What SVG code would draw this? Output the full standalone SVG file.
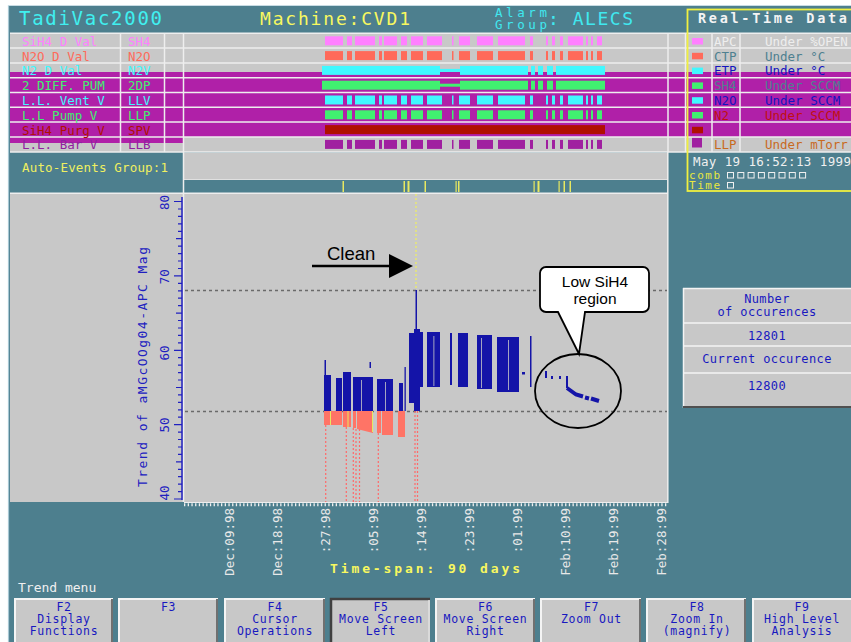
<svg xmlns="http://www.w3.org/2000/svg" width="851" height="642" viewBox="0 0 851 642">
<style>
.m{font-family:"DejaVu Sans Mono","Liberation Mono",monospace;}
.r{font-size:12.5px;white-space:pre;}
.a{font-family:"Liberation Sans",Arial,sans-serif;}
.sep{stroke:#EEEEEE;stroke-width:1.5;}
.bt{fill:#1818C0;font-size:11.5px;letter-spacing:0.7px;text-anchor:middle;}
.oc{fill:#1818C0;font-size:12px;letter-spacing:0.4px;text-anchor:middle;}
.tl{fill:#E8E8E8;font-size:12.5px;text-anchor:end;}
.yl{fill:#2020C0;font-size:12.5px;text-anchor:middle;}
.sd{stroke:#FF6A6A;stroke-width:1.2;stroke-dasharray:2 2;}
.ev{fill:#E8E860;}
.bl{fill:#1414A8;}
.sa{fill:#FF7466;}
.gp{fill:#C8C8C8;}
</style>
<defs>
<g id="patA">
<rect x="325" y="0" width="18" height="9"/><rect x="347" y="0" width="5" height="9"/><rect x="355" y="0" width="20" height="9"/>
<rect x="379" y="0" width="3" height="9"/><rect x="384" y="0" width="13" height="9"/><rect x="401" y="0" width="6" height="9"/>
<rect x="411" y="0" width="12" height="9"/><rect x="427" y="0" width="15" height="9"/><rect x="452" y="0" width="1.5" height="9"/>
<rect x="459" y="0" width="11" height="9"/><rect x="477" y="0" width="16" height="9"/><rect x="498" y="0" width="27" height="9"/>
<rect x="530" y="0" width="3" height="9"/><rect x="546" y="0" width="2" height="9"/><rect x="552" y="0" width="3" height="9"/>
<rect x="560" y="0" width="3" height="9"/><rect x="568" y="0" width="15" height="9"/><rect x="586" y="0" width="2" height="9"/>
<rect x="591" y="0" width="2" height="9"/><rect x="597" y="0" width="5" height="9"/>
</g>
<g id="patB">
<rect x="322" y="0" width="118" height="9"/><rect x="440" y="3" width="20" height="3"/><rect x="460" y="0" width="68" height="9"/>
<rect x="531" y="0" width="4" height="9"/><rect x="538" y="0" width="5" height="9"/><rect x="547" y="0" width="6" height="9"/>
<rect x="556" y="0" width="49" height="9"/>
</g>
</defs>

<rect x="0" y="0" width="851" height="642" fill="#FFFFFF"/>
<g id="frame">
<rect x="8" y="5" width="843" height="637" fill="#4D7F8E"/>
<line x1="8.5" y1="5" x2="8.5" y2="642" stroke="#A8C8D4" stroke-width="1.2"/>
<line x1="8" y1="5.5" x2="851" y2="5.5" stroke="#C8DCE4" stroke-width="1"/>
</g>

<g id="header" class="m">
<text x="19" y="25" font-size="19" fill="#40F0F0" textLength="143">TadiVac2000</text>
<text x="260" y="25" font-size="18" fill="#F8F860" textLength="150">Machine:CVD1</text>
<text x="495" y="17" font-size="12.5" fill="#40E8F0" textLength="52">Alarm</text>
<text x="495" y="28.5" font-size="12.5" fill="#40E8F0" textLength="52">Group</text>
<text x="548" y="25" font-size="18" fill="#40E8F0" textLength="85" style="white-space:pre">: ALECS</text>
</g>

<g id="table">
<rect x="10" y="33" width="841" height="119" fill="#C8C8C8"/>
<rect x="10" y="72" width="841" height="65" fill="#B020A8"/>
<rect x="10" y="137" width="173" height="6" fill="#B020A8"/>
<use href="#patA" y="36.3" fill="#FF80FF"/>
<use href="#patA" y="51.1" fill="#FF6A5A"/>
<use href="#patB" y="65.9" fill="#40F8FF"/>
<use href="#patB" y="80.7" fill="#40F070"/>
<use href="#patA" y="95.5" fill="#40F8FF"/>
<use href="#patA" y="110.3" fill="#40F070"/>
<rect x="325" y="125.1" width="280" height="9" fill="#B01000"/>
<use href="#patA" y="139.9" fill="#A020A0"/>
<rect x="692" y="38" width="11" height="6.5" fill="#FF80FF"/>
<rect x="692" y="52.8" width="11" height="6.5" fill="#FF6A5A"/>
<rect x="692" y="67.6" width="11" height="6.5" fill="#40F8FF"/>
<rect x="692" y="82.4" width="11" height="6.5" fill="#40F070"/>
<rect x="692" y="97.2" width="11" height="6.5" fill="#40F8FF"/>
<rect x="692" y="112" width="11" height="6.5" fill="#40F070"/>
<rect x="692" y="126.8" width="11" height="6.5" fill="#B01000"/>
<rect x="692" y="137.5" width="10" height="10" fill="#A020A0"/>
<g class="sep">
<line x1="10" y1="33.3" x2="851" y2="33.3"/><line x1="10" y1="48.1" x2="851" y2="48.1"/>
<line x1="10" y1="62.9" x2="851" y2="62.9"/><line x1="10" y1="77.7" x2="851" y2="77.7"/>
<line x1="10" y1="92.5" x2="851" y2="92.5"/><line x1="10" y1="107.3" x2="851" y2="107.3"/>
<line x1="10" y1="122.1" x2="851" y2="122.1"/><line x1="10" y1="136.9" x2="851" y2="136.9"/>
<line x1="10" y1="151.9" x2="851" y2="151.9"/>
<line x1="120.5" y1="33" x2="120.5" y2="152"/><line x1="164.5" y1="33" x2="164.5" y2="152"/>
<line x1="183.5" y1="33" x2="183.5" y2="152"/><line x1="668" y1="33" x2="668" y2="152"/>
<line x1="685.5" y1="33" x2="685.5" y2="152"/><line x1="712" y1="33" x2="712" y2="152"/>
<line x1="740" y1="33" x2="740" y2="152"/>
</g>
<g class="m r">
<text x="22" y="45.8" fill="#FF80FF">SiH4 D Val</text><text x="128" y="45.8" fill="#FF80FF">SH4</text>
<text x="22" y="60.6" fill="#FF6A5A">N2O D Val</text><text x="128" y="60.6" fill="#FF6A5A">N2O</text>
<text x="22" y="75.4" fill="#40F8FF">N2 D Val</text><text x="128" y="75.4" fill="#40F8FF">N2V</text>
<text x="22" y="90.2" fill="#40F070">2 DIFF. PUM</text><text x="128" y="90.2" fill="#40F070">2DP</text>
<text x="22" y="105" fill="#40F8FF">L.L. Vent V</text><text x="128" y="105" fill="#40F8FF">LLV</text>
<text x="22" y="119.8" fill="#40F070">L.L Pump V</text><text x="128" y="119.8" fill="#40F070">LLP</text>
<text x="22" y="134.6" fill="#B01000">SiH4 Purg V</text><text x="128" y="134.6" fill="#B01000">SPV</text>
<text x="22" y="149.4" fill="#9020A0">L.L. Bar  V</text><text x="128" y="149.4" fill="#9020A0">LLB</text>
<text x="714" y="45.8" fill="#EEEEEE">APC</text><text x="765" y="45.8" fill="#EEEEEE">Under %OPEN</text>
<text x="714" y="60.6" fill="#4E8090">CTP</text><text x="765" y="60.6" fill="#4E8090">Under °C</text>
<text x="714" y="75.4" fill="#1414C0">ETP</text><text x="765" y="75.4" fill="#1414C0">Under °C</text>
<text x="714" y="90.2" fill="#4E8090">SH4</text><text x="765" y="90.2" fill="#4E8090">Under SCCM</text>
<text x="714" y="105" fill="#1414C0">N2O</text><text x="765" y="105" fill="#1414C0">Under SCCM</text>
<text x="714" y="119.8" fill="#C01010">N2</text><text x="765" y="119.8" fill="#C01010">Under SCCM</text>
<text x="714" y="149" fill="#C86A1E">LLP</text><text x="765" y="149" fill="#C86A1E">Under mTorr</text>
</g>
</g>

<g id="realtime" class="m">
<rect x="687.5" y="9.5" width="170" height="181.5" fill="none" stroke="#F0F040" stroke-width="1.8"/>
<text x="698" y="23" font-size="13.5" font-weight="bold" fill="#F4F4F4" textLength="149">Real-Time Data</text>
<text x="693" y="166" font-size="12.5" fill="#F0F0F0" textLength="158" style="white-space:pre">May 19 16:52:13 1999</text>
<text x="689" y="178.5" font-size="11" fill="#E8E840" textLength="31">comb</text>
<text x="689" y="188.5" font-size="11" fill="#E8E840" textLength="31">Time</text>
<g fill="none" stroke="#F0F0F0" stroke-width="1">
<rect x="727.5" y="172.5" width="6" height="5.5"/><rect x="737.8" y="172.5" width="6" height="5.5"/>
<rect x="748.1" y="172.5" width="6" height="5.5"/><rect x="758.4" y="172.5" width="6" height="5.5"/>
<rect x="768.7" y="172.5" width="6" height="5.5"/><rect x="779" y="172.5" width="6" height="5.5"/>
<rect x="789.3" y="172.5" width="6" height="5.5"/><rect x="799.6" y="172.5" width="6" height="5.5"/>
<rect x="727.5" y="182.5" width="6" height="5.5"/>
</g>
</g>

<g id="events">
<text class="m" x="22" y="172" font-size="12.5" fill="#F0F060" textLength="146">Auto-Events Group:1</text>
<rect x="184" y="153" width="484" height="26" fill="#C8C8C8"/>
<line x1="184" y1="179.5" x2="668" y2="179.5" stroke="#E0E0E0" stroke-width="1.2"/>
<rect class="ev" x="342.5" y="181" width="1.5" height="11"/><rect class="ev" x="403.5" y="181" width="1.5" height="11"/>
<rect class="ev" x="407.5" y="181" width="2" height="11"/><rect class="ev" x="424.5" y="181" width="1.5" height="11"/>
<rect class="ev" x="455.5" y="181" width="1.2" height="11"/><rect class="ev" x="458" y="181" width="1.5" height="11"/>
<rect class="ev" x="533.5" y="181" width="1.2" height="11"/><rect class="ev" x="537.5" y="181" width="2" height="11"/>
<rect class="ev" x="558.5" y="181" width="1.2" height="11"/><rect class="ev" x="563.5" y="181" width="1.5" height="11"/>
<rect class="ev" x="569.5" y="181" width="1.5" height="11"/>
</g>

<g id="chart">
<rect x="10" y="193.5" width="657.5" height="308.5" fill="#C8C8C8"/>
<line x1="10" y1="193.2" x2="668" y2="193.2" stroke="#EEEEEE" stroke-width="1.5"/>
<line x1="183.5" y1="152" x2="183.5" y2="502" stroke="#EEEEEE" stroke-width="1.5"/>
<line x1="667.8" y1="152" x2="667.8" y2="503" stroke="#EEEEEE" stroke-width="1.5"/>
<line x1="184" y1="502.5" x2="668" y2="502.5" stroke="#EEEEEE" stroke-width="1.2"/>
<line x1="184" y1="504.8" x2="667" y2="504.8" stroke="#F0F0F0" stroke-width="3" stroke-dasharray="1.3 2.4"/>
<line x1="182" y1="197" x2="182" y2="500" stroke="#2020C0" stroke-width="1.5"/>
<path d="M182,201.5h-8M182,209h-4M182,216.4h-4M182,223.9h-4M182,231.3h-4M182,238.7h-6M182,246.1h-4M182,253.6h-4M182,261h-4M182,268.5h-4M182,275.9h-8M182,283.3h-4M182,290.8h-4M182,298.2h-4M182,305.7h-4M182,313.1h-6M182,320.5h-4M182,328h-4M182,335.4h-4M182,342.9h-4M182,350.3h-8M182,357.7h-4M182,365.2h-4M182,372.6h-4M182,380h-4M182,387.5h-6M182,394.9h-4M182,402.3h-4M182,409.8h-4M182,417.2h-4M182,424.6h-8M182,432.1h-4M182,439.5h-4M182,447h-4M182,454.4h-4M182,461.8h-6M182,469.3h-4M182,476.7h-4M182,484.1h-4M182,491.6h-4M182,499h-8" stroke="#2020C0" stroke-width="1.2" fill="none"/>
<g class="m yl">
<text x="169" y="202.5" transform="rotate(-90 169 202.5)">80</text>
<text x="169" y="276.7" transform="rotate(-90 169 276.7)">70</text>
<text x="169" y="353" transform="rotate(-90 169 353)">60</text>
<text x="169" y="425" transform="rotate(-90 169 425)">50</text>
<text x="169" y="493" transform="rotate(-90 169 493)">40</text>
<text x="146.5" y="367" transform="rotate(-90 146.5 367)" font-size="13" textLength="240">Trend of aMGcOOg04-APC Mag</text>
</g>
<line x1="185" y1="290.5" x2="667" y2="290.5" stroke="#6A6A6A" stroke-width="1.3" stroke-dasharray="3 3"/>
<line x1="185" y1="411.5" x2="667" y2="411.5" stroke="#6A6A6A" stroke-width="1.3" stroke-dasharray="3 3"/>
<line x1="416" y1="194" x2="416" y2="290" stroke="#F0F060" stroke-width="1.2" stroke-dasharray="2 2"/>
<g id="salmon">
<rect class="sa" x="324" y="411" width="18" height="14"/>
<rect class="sa" x="343" y="411" width="8" height="16"/>
<rect class="sa" x="353" y="411" width="3" height="17"/>
<path class="sa" d="M357,411H373V433L357,429Z"/>
<rect class="sa" x="377" y="411" width="4" height="22"/>
<rect class="sa" x="382" y="411" width="11" height="24"/>
<rect class="sa" x="398" y="411" width="7" height="26"/>
<rect class="ev" x="330" y="411" width="1" height="14"/>
<rect class="ev" x="347.5" y="411" width="1" height="16"/>
<rect class="ev" x="372" y="411" width="1" height="21"/>
<line class="sd" x1="325.7" y1="425" x2="325.7" y2="502"/>
<line class="sd" x1="346.3" y1="427" x2="346.3" y2="502"/>
<line class="sd" x1="353.3" y1="428" x2="353.3" y2="502"/>
<line class="sd" x1="356" y1="429" x2="356" y2="502"/>
<line class="sd" x1="359.5" y1="429" x2="359.5" y2="502"/>
<line class="sd" x1="378.3" y1="433" x2="378.3" y2="502"/>
<line class="sd" x1="415" y1="411" x2="415" y2="502"/>
<line class="sd" x1="417.5" y1="411" x2="417.5" y2="502"/>
</g>
<g id="blue">
<rect class="bl" x="324" y="375" width="7" height="36"/>
<rect class="bl" x="324.5" y="360" width="1.5" height="15"/>
<rect class="bl" x="336" y="378" width="6" height="33"/>
<rect class="bl" x="343" y="372" width="8" height="39"/>
<rect class="bl" x="353" y="377" width="20" height="34"/>
<rect class="bl" x="377" y="379" width="16" height="32"/>
<rect class="bl" x="399" y="383" width="4" height="28"/>
<rect class="bl" x="404.5" y="367" width="1.3" height="44"/>
<rect class="bl" x="369.5" y="362" width="1.5" height="6"/>
<rect class="bl" x="409" y="333" width="5" height="70"/>
<rect class="bl" x="414" y="329" width="6" height="82"/>
<rect class="bl" x="415.5" y="290" width="1.5" height="40"/>
<rect class="bl" x="420" y="332" width="3" height="55"/>
<rect class="bl" x="427" y="332" width="13" height="55"/>
<rect class="bl" x="450" y="333" width="2" height="52"/>
<rect class="bl" x="458" y="333" width="10" height="54"/>
<rect class="bl" x="477" y="335" width="15" height="54"/>
<rect class="bl" x="497" y="337" width="22" height="55"/>
<rect class="bl" x="522" y="372" width="3" height="2.5"/>
<rect class="bl" x="530" y="336" width="1.5" height="51"/>
<rect class="gp" x="332" y="380" width="0.8" height="31"/>
<rect class="gp" x="361" y="380" width="0.8" height="31"/>
<rect class="gp" x="385" y="382" width="0.8" height="29"/>
<rect class="gp" x="433.5" y="336" width="0.8" height="50"/>
<rect class="gp" x="481" y="338" width="0.8" height="50"/>
<rect class="gp" x="508" y="340" width="0.8" height="50"/>
<rect class="bl" x="545" y="371" width="2" height="7"/>
<rect class="bl" x="551" y="376" width="2" height="3"/>
<rect class="bl" x="559" y="376" width="2" height="3"/>
<rect class="bl" x="566" y="376" width="2" height="12"/>
<path d="M567,388L576,394.5L583,396.5M585,397.5L589,398.5M591,398.5L599,401" stroke="#1414A8" stroke-width="4" fill="none"/>
</g>
</g>

<g id="annotations" class="a">
<line x1="312" y1="266" x2="391" y2="266" stroke="#000" stroke-width="2.5"/>
<path d="M389,254L413,266L389,278Z" fill="#000"/>
<text x="327" y="260" font-size="18.5" fill="#000">Clean</text>
<path d="M546,267H643A6,6 0 0 1 649,273V306A6,6 0 0 1 643,312H585L579,354L558,312H546A6,6 0 0 1 540,306V273A6,6 0 0 1 546,267Z" fill="#FFFFFF" stroke="#000" stroke-width="1.8"/>
<text x="595" y="287" font-size="15.5" text-anchor="middle" fill="#000">Low SiH4</text>
<text x="595" y="303.5" font-size="15.5" text-anchor="middle" fill="#000">region</text>
<ellipse cx="578" cy="391" rx="43" ry="37" fill="none" stroke="#000" stroke-width="1.8"/>
</g>

<g id="xaxis" class="m tl">
<text x="233.5" y="508" transform="rotate(-90 233.5 508)">Dec:09:98</text>
<text x="281.6" y="508" transform="rotate(-90 281.6 508)">Dec:18:98</text>
<text x="329.7" y="508" transform="rotate(-90 329.7 508)">:27:98</text>
<text x="377.8" y="508" transform="rotate(-90 377.8 508)">:05:99</text>
<text x="425.9" y="508" transform="rotate(-90 425.9 508)">:14:99</text>
<text x="474" y="508" transform="rotate(-90 474 508)">:23:99</text>
<text x="522.1" y="508" transform="rotate(-90 522.1 508)">:01:99</text>
<text x="570.2" y="508" transform="rotate(-90 570.2 508)">Feb:10:99</text>
<text x="618.3" y="508" transform="rotate(-90 618.3 508)">Feb:19:99</text>
<text x="666.4" y="508" transform="rotate(-90 666.4 508)">Feb:28:99</text>
</g>
<text class="m" x="330" y="573" font-size="13" font-weight="bold" fill="#F8F860" textLength="190" style="white-space:pre">Time-span: 90 days</text>

<g id="occurrences" class="m">
<rect x="683" y="288" width="170" height="120" fill="#C8C8C8"/>
<line x1="683" y1="288.5" x2="851" y2="288.5" stroke="#F4F4F4" stroke-width="1.5"/>
<line x1="683.5" y1="288" x2="683.5" y2="408" stroke="#F4F4F4" stroke-width="1.5"/>
<line x1="683" y1="407" x2="851" y2="407" stroke="#505050" stroke-width="2"/>
<line x1="684" y1="323" x2="851" y2="323" stroke="#F4F4F4" stroke-width="1.3"/>
<line x1="684" y1="346" x2="851" y2="346" stroke="#F4F4F4" stroke-width="1.3"/>
<line x1="684" y1="373" x2="851" y2="373" stroke="#F4F4F4" stroke-width="1.3"/>
<g class="oc">
<text x="767" y="302.5">Number</text>
<text x="767" y="316" style="white-space:pre">of occurences</text>
<text x="767" y="340">12801</text>
<text x="767" y="363">Current occurence</text>
<text x="767" y="390">12800</text>
</g>
</g>

<text class="m" x="18" y="592" font-size="13" fill="#F0F0F0" style="white-space:pre">Trend menu</text>

<g id="buttons" class="m">
<g fill="#C8C8C8">
<rect x="15" y="598" width="98" height="46"/><rect x="119" y="598" width="99" height="46"/>
<rect x="225" y="598" width="100" height="46"/><rect x="330" y="598" width="100" height="46"/>
<rect x="436" y="598" width="99" height="46"/><rect x="541" y="598" width="100" height="46"/>
<rect x="647" y="598" width="99" height="46"/><rect x="753" y="598" width="98" height="46"/>
</g>
<path d="M15,642V599H113M119,642V599H218M225,642V599H325M436,642V599H535M541,642V599H641M647,642V599H746M753,642V599H851" stroke="#F4F4F4" stroke-width="2" fill="none"/>
<path d="M112,599V642M217,599V642M324,599V642M534,599V642M640,599V642M745,599V642" stroke="#707070" stroke-width="2" fill="none"/>
<path d="M331,642V599H430" stroke="#404040" stroke-width="2.5" fill="none"/>
<path d="M429,600V642" stroke="#E0E0E0" stroke-width="1.5" fill="none"/>
<g class="bt">
<text x="64" y="610.5">F2</text><text x="64" y="622.5">Display</text><text x="64" y="634.5">Functions</text>
<text x="168.5" y="610.5">F3</text>
<text x="275" y="610.5">F4</text><text x="275" y="622.5">Cursor</text><text x="275" y="634.5">Operations</text>
<text x="381" y="610.5">F5</text><text x="381" y="622.5" style="white-space:pre">Move Screen</text><text x="381" y="634.5">Left</text>
<text x="485.5" y="610.5">F6</text><text x="485.5" y="622.5" style="white-space:pre">Move Screen</text><text x="485.5" y="634.5">Right</text>
<text x="591.5" y="610.5">F7</text><text x="591.5" y="622.5" style="white-space:pre">Zoom Out</text>
<text x="697" y="610.5">F8</text><text x="697" y="622.5" style="white-space:pre">Zoom In</text><text x="697" y="634.5">(magnify)</text>
<text x="802" y="610.5">F9</text><text x="802" y="622.5" style="white-space:pre">High Level</text><text x="802" y="634.5">Analysis</text>
</g>
</g>
</svg>
